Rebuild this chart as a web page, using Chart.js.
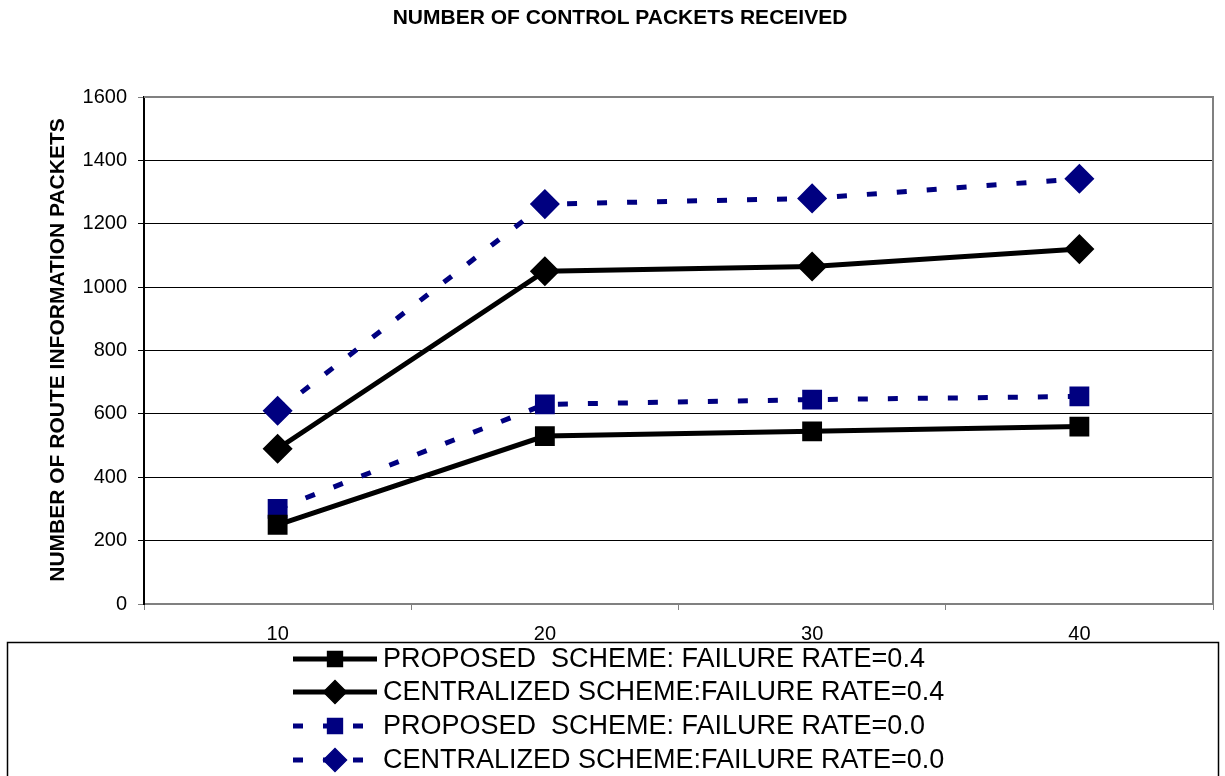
<!DOCTYPE html>
<html>
<head>
<meta charset="utf-8">
<script src="https://cdn.jsdelivr.net/npm/chart.js@4"></script>
<style>
  html, body { margin: 0; padding: 0; background: #fff; }
  #wrap { width: 1225px; height: 776px; }
</style>
</head>
<body>
<div id="wrap"><canvas id="myChart" width="1225" height="776"></canvas></div>
<script>
const categories = ['10', '20', '30', '40'];
const proposed04 = [250, 530, 545, 560];
const centralized04 = [490, 1050, 1065, 1120];
const proposed00 = [300, 630, 645, 655];
const centralized00 = [610, 1262, 1280, 1342];
const yTicks = [0, 200, 400, 600, 800, 1000, 1200, 1400, 1600];

const FONT = '"Liberation Sans", Arial, sans-serif';
const NAVY = '#000080';

// draws title, y axis title, plot frame and the boxed legend
const decorations = {
  id: 'decorations',
  afterDraw(chart) {
    const ctx = chart.ctx;
    const a = chart.chartArea;
    ctx.save();

    // plot frame
    ctx.strokeStyle = '#808080';
    ctx.lineWidth = 2;
    ctx.beginPath();
    ctx.moveTo(a.left, a.top);
    ctx.lineTo(a.right, a.top);
    ctx.lineTo(a.right, a.bottom);
    ctx.stroke();

    ctx.fillStyle = '#000';
    ctx.font = 'bold 21px ' + FONT;
    ctx.textAlign = 'center';
    ctx.textBaseline = 'middle';
    ctx.fillText('NUMBER OF CONTROL PACKETS RECEIVED', 620, 18);

    ctx.save();
    ctx.translate(58, 350);
    ctx.rotate(-Math.PI / 2);
    ctx.font = 'bold 21px ' + FONT;
    ctx.fillText('NUMBER OF ROUTE INFORMATION PACKETS', 0, 0);
    ctx.restore();

    // legend box
    ctx.strokeStyle = '#000';
    ctx.lineWidth = 1.5;
    ctx.strokeRect(7.5, 642.5, 1211, 200);

    const rows = [659, 692, 726, 760];
    chart.data.datasets.forEach((ds, i) => {
      const y = rows[i];
      ctx.save();
      ctx.strokeStyle = ds.borderColor;
      ctx.lineWidth = ds.borderWidth;
      ctx.setLineDash(ds.borderDash || []);
      ctx.beginPath();
      ctx.moveTo(293, y);
      ctx.lineTo(377, y);
      ctx.stroke();
      ctx.restore();
      ctx.save();
      ctx.fillStyle = ds.pointBackgroundColor;
      ctx.strokeStyle = ds.pointBorderColor;
      Chart.helpers.drawPoint(ctx, {
        pointStyle: ds.pointStyle,
        radius: ds.pointRadius,
        rotation: 0,
        borderWidth: 1
      }, 335, y);
      ctx.restore();
      ctx.fillStyle = '#000';
      ctx.textAlign = 'left';
      ctx.font = '27px ' + FONT;
      ctx.fillText(ds.label, 383, y + 1);
    });
    ctx.restore();
  }
};

function series(label, data, color, dash, style, radius) {
  return {
    label: label,
    data: data,
    borderColor: color,
    backgroundColor: color,
    pointBackgroundColor: color,
    pointBorderColor: color,
    borderWidth: 5,
    borderDash: dash,
    pointStyle: style,
    pointRadius: radius,
    pointHoverRadius: radius,
    tension: 0,
    fill: false
  };
}

new Chart(document.getElementById('myChart'), {
  type: 'line',
  data: {
    labels: categories,
    datasets: [
      series('PROPOSED  SCHEME: FAILURE RATE=0.4', proposed04, '#000', [], 'rect', 10.5),
      series('CENTRALIZED SCHEME:FAILURE RATE=0.4', centralized04, '#000', [], 'rectRot', 11.5),
      series('PROPOSED  SCHEME: FAILURE RATE=0.0', proposed00, NAVY, [10, 20], 'rect', 10.5),
      series('CENTRALIZED SCHEME:FAILURE RATE=0.0', centralized00, NAVY, [10, 20], 'rectRot', 11.5)
    ]
  },
  options: {
    responsive: false,
    animation: false,
    devicePixelRatio: 1,
    layout: { autoPadding: false, padding: { top: 97, left: 0, right: 12, bottom: 132 } },
    plugins: {
      legend: { display: false },
      title: { display: false },
      tooltip: { enabled: false }
    },
    scales: {
      x: {
        type: 'category',
        offset: true,
        afterFit: s => { s.height = 40; },
        grid: { offset: true, drawOnChartArea: false, tickLength: 6, color: '#808080', lineWidth: 1 },
        border: { color: '#808080', width: 2 },
        ticks: { color: '#000', padding: 12, font: { family: FONT, size: 20 } }
      },
      y: {
        min: 0,
        max: 1600,
        afterFit: s => { s.width = 144; },
        afterBuildTicks: s => { s.ticks = yTicks.map(v => ({ value: v })); },
        grid: {
          color: ctx => (ctx.tick && (ctx.tick.value === 0 || ctx.tick.value === 1600)) ? '#808080' : '#000',
          lineWidth: 1,
          tickLength: 6
        },
        border: { color: '#000', width: 2 },
        ticks: {
          color: '#000',
          padding: 11,
          font: { family: FONT, size: 20 },
          callback: v => String(v)
        }
      }
    }
  },
  plugins: [decorations]
});
</script>
</body>
</html>
